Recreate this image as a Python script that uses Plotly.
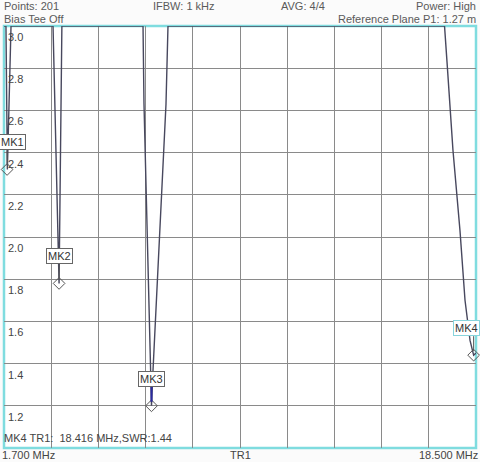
import plotly.graph_objects as go

# ---- data ----
freq_mhz = [1.700, 1.770, 1.820, 1.950, 3.445, 3.660, 3.760, 6.648, 6.683, 6.897,
            6.950, 7.004, 7.466, 7.537, 17.380, 17.468, 17.681, 17.930, 18.109,
            18.287, 18.416, 18.500]
swr = [3.0, 3.0, 2.32, 3.0, 3.0, 1.78, 3.0, 3.0, 2.63, 1.37,
       1.20, 1.37, 2.63, 3.0, 3.0, 2.83, 2.41, 2.03, 1.70,
       1.51, 1.44, 1.45]

mk_names = ["MK1", "MK2", "MK3", "MK4"]
mk_freq = [1.81, 3.66, 6.95, 18.416]
mk_swr = [2.32, 1.78, 1.20, 1.44]

y_tick_vals = [3.0, 2.8, 2.6, 2.4, 2.2, 2.0, 1.8, 1.6, 1.4, 1.2]
y_tick_text = ["3.0", "2.8", "2.6", "2.4", "2.2", "2.0", "1.8", "1.6", "1.4", "1.2"]

header_left = ["Points: 201", "Bias Tee Off"]
header_mid = ["IFBW: 1 kHz", "AVG: 4/4"]
header_right = ["Power: High", "Reference Plane P1: 1.27 m"]
marker_readout = "MK4 TR1:  18.416 MHz,SWR:1.44"
x_start_label = "1.700 MHz"
x_end_label = "18.500 MHz"
trace_label = "TR1"

W, H = 480, 462
L, R, T, B = 4, 4, 26, 14
PW, PH = W - L - R, H - T - B


def px(p):
    return (p - L) / PW


def py(p):
    return (H - B - p) / PH


FONT = "Liberation Sans, Arial, sans-serif"
TXT = "#5a5a5a"
DARK = "#444444"

fig = go.Figure()
fig.add_trace(go.Scatter(x=freq_mhz, y=swr, mode="lines",
                         line=dict(color="#48485e", width=1.4),
                         hoverinfo="skip", showlegend=False))
fig.add_trace(go.Scatter(x=mk_freq, y=mk_swr, mode="markers",
                         marker=dict(symbol="diamond-open", size=9,
                                     color="#555555", line=dict(width=1)),
                         cliponaxis=False, hoverinfo="skip", showlegend=False))

ann = []
# y tick labels inside the plot, just below each grid line
for v, t in zip(y_tick_vals, y_tick_text):
    ann.append(dict(x=0, xref="paper", y=v, yref="y", text=t, showarrow=False,
                    xanchor="left", yanchor="top", xshift=2, yshift=-3,
                    font=dict(family=FONT, size=11, color=DARK)))

# marker boxes
mk_xshift = [5, 0, 0, -7]
mk_border = ["#666666", "#666666", "#666666", "#88d4dc"]
stem_col = ["#555555", "#555555", "#2a2aa0", "#555555"]
for n, f, s, xs, bc in zip(mk_names, mk_freq, mk_swr, mk_xshift, mk_border):
    ann.append(dict(x=f, y=s, xref="x", yref="y", text=n, showarrow=False,
                    xshift=xs, yshift=27, bgcolor="white", bordercolor=bc,
                    borderwidth=1, borderpad=1,
                    font=dict(family=FONT, size=11, color="#333333")))


def label(text, xp, yp, anchor, color=TXT):
    ann.append(dict(x=px(xp), y=py(yp), xref="paper", yref="paper", text=text,
                    showarrow=False, xanchor=anchor, yanchor="middle", borderpad=0,
                    font=dict(family=FONT, size=11, color=color)))


# header
label(header_left[0], 3, 6.5, "left")
label(header_left[1], 3, 19.5, "left")
label(header_mid[0], 152, 6.5, "left")
label(header_mid[1], 280, 6.5, "left")
label(header_right[0], 477, 6.5, "right")
label(header_right[1], 477, 19.5, "right")

# readout and footer
label(marker_readout, 3, 438, "left", DARK)
label(x_start_label, 1, 455, "left", DARK)
label(trace_label, 240, 455, "center", DARK)
label(x_end_label, 479, 455, "right", DARK)

shapes = []
# marker stems
for f, s, c in zip(mk_freq, mk_swr, stem_col):
    shapes.append(dict(type="line", xref="x", yref="y", x0=f, x1=f,
                       ysizemode="pixel", yanchor=s, y0=4, y1=19,
                       line=dict(color=c, width=2 if c == "#2a2aa0" else 1)))
# cyan frame
shapes.append(dict(type="rect", xref="paper", yref="paper", x0=0, x1=1, y0=0, y1=1,
                   line=dict(color="#7fdcdf", width=2.5), layer="between"))

fig.update_layout(
    width=W, height=H,
    margin=dict(l=L, r=R, t=T, b=B, pad=0),
    paper_bgcolor="#fbfbfb", plot_bgcolor="white",
    showlegend=False,
    xaxis=dict(range=[1.7, 18.5], tick0=1.7, dtick=1.68, showgrid=True,
               gridcolor="#8a8a8a", gridwidth=1, showticklabels=False,
               zeroline=False, showline=False, ticks="", fixedrange=True),
    yaxis=dict(range=[1.0, 3.0], tick0=1.0, dtick=0.2, showgrid=True,
               gridcolor="#8a8a8a", gridwidth=1, showticklabels=False,
               zeroline=False, showline=False, ticks="", fixedrange=True),
    annotations=ann, shapes=shapes,
)

fig.write_html("out.html", config={"displayModeBar": False, "staticPlot": True},
               post_script="document.body.style.margin='0';document.body.style.padding='0';"
                           "document.documentElement.style.overflow='hidden';")
